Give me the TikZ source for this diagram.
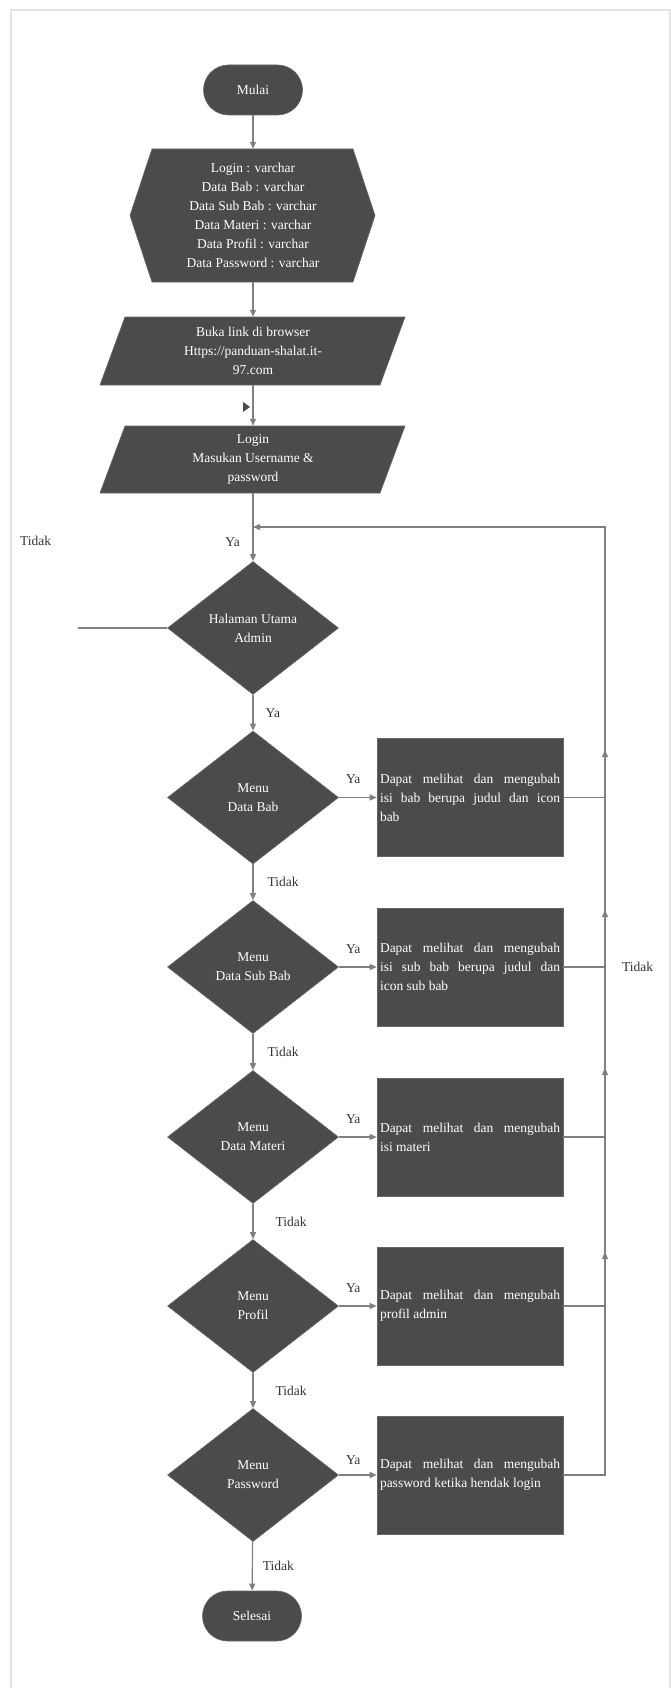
\documentclass[tikz,border=0pt]{standalone}
\usepackage{fontspec}
\setmainfont{Liberation Serif}
\usetikzlibrary{shapes.geometric,arrows.meta}
\definecolor{boxfill}{HTML}{4B4B4B}
\definecolor{flowgray}{HTML}{808080}
\definecolor{framegray}{HTML}{E4E4E4}
\begin{document}
\begin{tikzpicture}[x=1pt,y=-1pt,
        every node/.style={font=\fontsize{13.5}{19}\selectfont},
        darkshape/.style={fill=boxfill,draw=boxfill!85!white,line width=0.6pt},
        terminal/.style={darkshape,rectangle,rounded corners=25pt,minimum width=99pt,minimum height=50pt,text=white},
        decision/.style={darkshape,diamond,aspect=1.3,inner sep=0pt,minimum width=171pt,minimum height=133pt,text=white,align=center},
        process/.style={darkshape,rectangle,minimum width=186pt,minimum height=118pt,text width=180pt,inner sep=3pt,align=justify,text=white},
        shapetext/.style={inner sep=0pt,text=white,align=center},
        answer/.style={inner sep=0pt,text=black!80},
        line/.style={draw=flowgray,line width=1.2pt},
        flow/.style={line,-{Triangle[length=7pt,width=6pt]}}]
        \useasboundingbox (0,0) rectangle (671,1688);
        \draw[framegray,line width=2pt] (11,1688) -- (11,10) -- (670,10) -- (670,1688);

        \node[terminal] (mulai) at (253,90) {Mulai};
        \fill[darkshape] (130,215.5) -- (152,149) -- (353,149) -- (375,215.5) -- (353,282) -- (152,282) -- cycle;
        \node[shapetext,minimum width=201pt,minimum height=133pt] (decl) at (253,215.5) {Login : varchar\\Data Bab : varchar\\Data Sub Bab : varchar\\Data Materi : varchar\\Data Profil : varchar\\Data Password : varchar};
        \fill[darkshape] (100,385) -- (125,317) -- (405,317) -- (380,385) -- cycle;
        \node[shapetext,minimum width=255pt,minimum height=68pt] (link) at (253,351) {Buka link di browser\\Https://panduan-shalat.it-\\97.com};
        \fill[darkshape] (100,493) -- (125,426) -- (405,426) -- (380,493) -- cycle;
        \node[shapetext,minimum width=255pt,minimum height=67pt] (login) at (253,459.5) {Login\\Masukan Username \&\\password};
        \fill[boxfill] (243,402) -- (250,407) -- (243,412) -- cycle;

        \node[decision] (home) at (253,628) {Halaman Utama\\Admin};
        \node[decision] (bab) at (253,797.5) {Menu\\Data Bab};
        \node[decision] (subbab) at (253,967) {Menu\\Data Sub Bab};
        \node[decision] (materi) at (253,1137) {Menu\\Data Materi};
        \node[decision] (profil) at (253,1306) {Menu\\Profil};
        \node[decision] (password) at (253,1475) {Menu\\Password};
        \node[terminal] (selesai) at (252,1616) {Selesai};

        \node[process] (babact) at (470,797.5) {Dapat melihat dan mengubah\linebreak isi bab berupa judul dan icon\linebreak bab};
        \node[process] (subbabact) at (470,967) {Dapat melihat dan mengubah\linebreak isi sub bab berupa judul dan\linebreak icon sub bab};
        \node[process] (materiact) at (470,1137) {Dapat melihat dan mengubah\linebreak isi materi};
        \node[process] (profilact) at (470,1306) {Dapat melihat dan mengubah\linebreak profil admin};
        \node[process] (passwordact) at (470,1475) {Dapat melihat dan mengubah\linebreak password ketika hendak login};

        \coordinate (corner) at (605,527);
        \coordinate (entry) at (253,527);
        \coordinate (up1) at (605,750);
        \coordinate (up2) at (605,910);
        \coordinate (up3) at (605,1068);
        \coordinate (up4) at (605,1252);
        \coordinate (back) at (78,628);

        \draw[flow] (mulai) -- (decl);
        \draw[flow] (decl) -- (link);
        \draw[flow] (link) -- (login);
        \draw[flow] (login) -- (home);
        \draw[flow] (home) -- (bab) node[answer,midway,right=12pt] {Ya};
        \draw[flow] (bab) -- (subbab) node[answer,midway,right=14pt] {Tidak};
        \draw[flow] (subbab) -- (materi) node[answer,midway,right=14pt] {Tidak};
        \draw[flow] (materi) -- (profil) node[answer,midway,right=22pt] {Tidak};
        \draw[flow] (profil) -- (password) node[answer,midway,right=22pt] {Tidak};
        \draw[flow] (password) -- (selesai) node[answer,midway,right=10pt] {Tidak};
        \draw[line] (home) -- (back);

        \draw[flow] (bab) -- (babact) node[answer,pos=0.38,above=13pt] {Ya};
        \draw[flow] (subbab) -- (subbabact) node[answer,pos=0.38,above=13pt] {Ya};
        \draw[flow] (materi) -- (materiact) node[answer,pos=0.38,above=13pt] {Ya};
        \draw[flow] (profil) -- (profilact) node[answer,pos=0.38,above=13pt] {Ya};
        \draw[flow] (password) -- (passwordact) node[answer,pos=0.38,above=10pt] {Ya};

        \draw[flow] (babact) -| (corner) -- (entry);
        \draw[flow] (subbabact) -| (up1);
        \draw[flow] (materiact) -| (up2);
        \draw[flow] (profilact) -| (up3);
        \draw[flow] (passwordact) -| (up4);

        \node[answer,anchor=west] (tidakright) at (622,967) {Tidak};
        \node[answer,anchor=west] (tidakleft) at (20,541) {Tidak};
        \node[answer,anchor=east] (yatop) at (240,542) {Ya};
\end{tikzpicture}
\end{document}
